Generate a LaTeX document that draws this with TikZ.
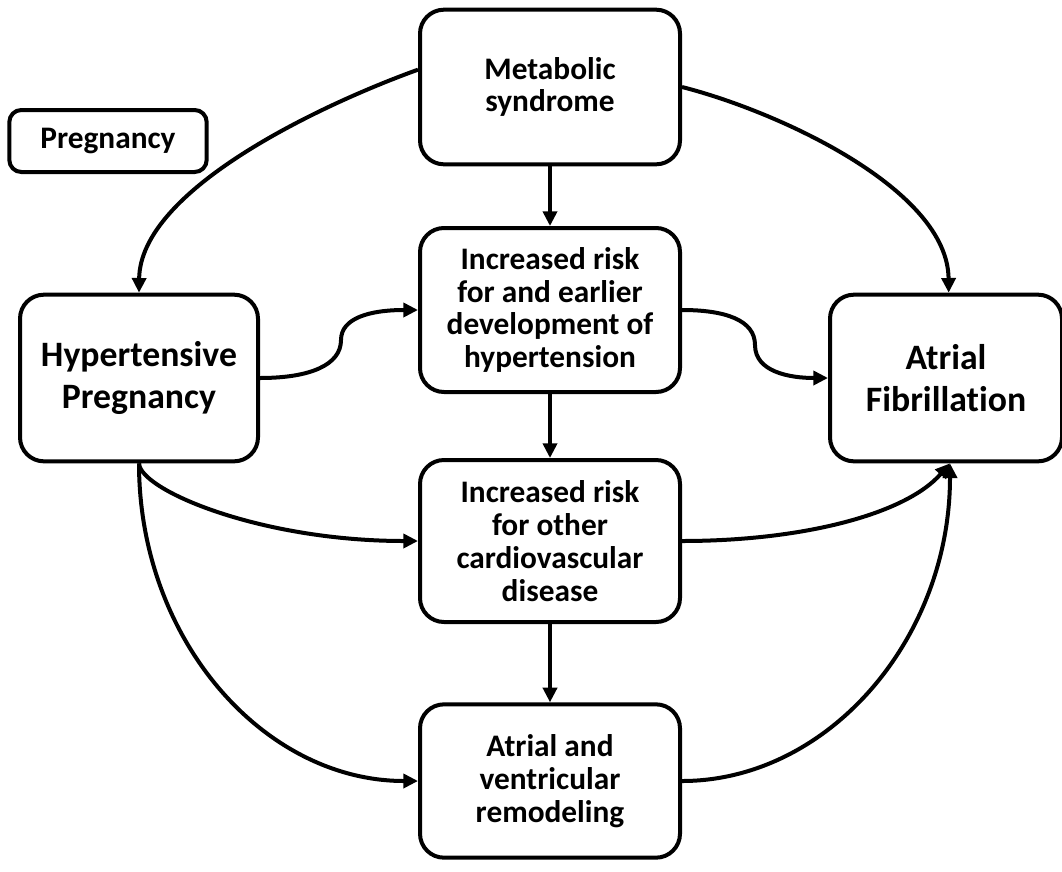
\documentclass[tikz,border=0pt]{standalone}
\usepackage{fontspec}
\setmainfont{Carlito}[Ligatures=CommonOff]
\usetikzlibrary{arrows.meta}

\begin{document}
\begin{tikzpicture}[
    x=0.75pt, y=-0.75pt,
    box/.style={rectangle, draw, line width=3pt, rounded corners=18pt, align=center, minimum width=195pt, font=\bfseries\fontsize{23.5}{24.6}\selectfont},
    bigbox/.style={box, minimum height=125pt, font=\bfseries\fontsize{26.8}{31.5}\selectfont},
    link/.style={-{Triangle[length=11pt,width=10.5pt]}, line width=3pt}
]
\useasboundingbox (0,0) rectangle (1062,871);

% Boxes
\node[box, rounded corners=9pt, minimum width=148pt, minimum height=46.5pt] (preg) at (108,141) {Pregnancy};
\node[box, minimum height=116pt] (meta) at (550,87) {Metabolic\\syndrome};
\node[box, minimum height=123pt] (risk) at (550,310) {Increased risk\\for and earlier\\development of\\hypertension};
\node[box, minimum height=121.5pt] (cvd) at (550,541) {Increased risk\\for other\\cardiovascular\\disease};
\node[box, minimum height=115pt] (remod) at (550,781) {Atrial and\\ventricular\\remodeling};
\node[bigbox, minimum width=178.5pt] (hyp) at (139,378) {Hypertensive\\Pregnancy};
\node[bigbox, minimum width=174pt] (af) at (946,378) {Atrial\\Fibrillation};

% Straight links
\draw[link] (meta) -- (risk);
\draw[link] (risk) -- (cvd);
\draw[link] (cvd) -- (remod);

% Curved links
\draw[link] ([yshift=13pt]meta.west) .. controls (320,105) and (140,190) .. (hyp.north);
\draw[link] (meta.east) .. controls (780,112) and (948,190) .. ([xshift=2pt]af.north);
\draw[link] (hyp.east) .. controls (310,378) and (341,365) .. (341,340) .. controls (341,318) and (370,310) .. (risk.west);
\draw[link] (risk.east) .. controls (725,310) and (755,320) .. (755,345) .. controls (755,372) and (790,378) .. (af.west);
\draw[link] (hyp.south) .. controls (140,490) and (260,541) .. (cvd.west);
\draw[link] (hyp.south) .. controls (139,640) and (264,781) .. (remod.west);
\draw[link] (cvd.east) .. controls (800,541) and (905,515) .. ([xshift=3pt]af.south);
\draw[link] (remod.east) .. controls (827,781) and (950,640) .. ([xshift=3pt]af.south);

\end{tikzpicture}
\end{document}
